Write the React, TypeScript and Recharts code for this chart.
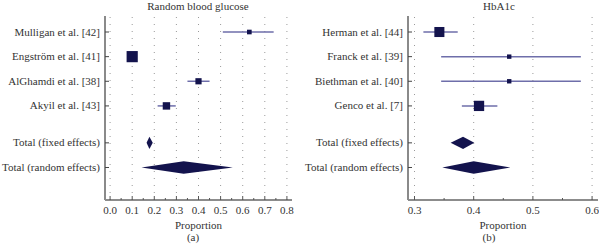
import { ScatterChart, Scatter, XAxis, YAxis, ErrorBar, ReferenceLine, Label } from 'recharts';

// Random blood glucose
const rbgStudies = ['Mulligan et al. [42]', 'Engström et al. [41]', 'AlGhamdi et al. [38]', 'Akyil et al. [43]'];
const rbgEst = [0.63, 0.1, 0.4, 0.255];
const rbgLow = [0.51, 0.09, 0.35, 0.215];
const rbgHigh = [0.74, 0.11, 0.45, 0.297];
const rbgWeight = [9, 52, 16, 23];
const rbgFixed = [0.165, 0.178, 0.193]; // low, estimate, high
const rbgRandom = [0.142, 0.333, 0.555];
const rbgTicks = [0, 0.05, 0.1, 0.15, 0.2, 0.25, 0.3, 0.35, 0.4, 0.45, 0.5, 0.55, 0.6, 0.65, 0.7, 0.75, 0.8];

// HbA1c
const hbaStudies = ['Herman et al. [44]', 'Franck et al. [39]', 'Biethman et al. [40]', 'Genco et al. [7]'];
const hbaEst = [0.342, 0.46, 0.46, 0.409];
const hbaLow = [0.315, 0.345, 0.345, 0.38];
const hbaHigh = [0.373, 0.581, 0.581, 0.44];
const hbaWeight = [42, 8, 8, 44];
const hbaFixed = [0.361, 0.382, 0.401];
const hbaRandom = [0.347, 0.4, 0.462];
const hbaTicks = [0.3, 0.35, 0.4, 0.45, 0.5, 0.55, 0.6];

const rowPos = [1, 2, 3, 4, 5.5, 6.5];
const totalLabels = ['Total (fixed effects)', 'Total (random effects)'];

const NAVY = '#13134d';
const CI = '#6e6eaa';
const TEXT = '#333';
const FONT = '"Liberation Serif", "DejaVu Serif", serif';
const FS = 11;

const isMajor = (v: number) => Math.abs(v * 10 - Math.round(v * 10)) < 1e-6;

function XTick({ x, y, payload }: any) {
  const v = payload.value;
  const major = isMajor(v);
  return (
    <g>
      <line x1={x} x2={x} y1={y} y2={y - (major ? 4 : 2)} stroke="#555" />
      {major && (
        <text x={x} y={y + 14} textAnchor="middle" fill={TEXT} style={{ fontFamily: FONT, fontSize: FS }}>
          {v.toFixed(1)}
        </text>
      )}
    </g>
  );
}

function Panel({ studies, est, low, high, weight, fixed, random, ticks, domain, yWidth, width, right }: any) {
  const labels = [...studies, ...totalLabels];
  const studyData = studies.map((s: string, i: number) => ({
    x: est[i],
    y: rowPos[i],
    err: [est[i] - low[i], high[i] - est[i]],
    w: weight[i],
  }));
  const diamond = (d: number[], row: number) => [
    { x: d[0], y: row },
    { x: d[1], y: row - 0.25 },
    { x: d[2], y: row },
    { x: d[1], y: row + 0.25 },
  ];
  const YTick = ({ x, y, payload }: any) => {
    const idx = rowPos.indexOf(payload.value);
    return (
      <g>
        <line x1={x} x2={x + 4} y1={y} y2={y} stroke="#444" />
        <text x={x - 5} y={y} dy={3.5} textAnchor="end" fill={TEXT} style={{ fontFamily: FONT, fontSize: FS }}>
          {labels[idx]}
        </text>
      </g>
    );
  };
  const polygon = (p: any) => (
    <polygon points={p.points.map((pt: any) => `${pt.x},${pt.y}`).join(' ')} fill={NAVY} stroke="none" />
  );
  const square = (p: any) => {
    const s = Math.sqrt(p.payload.w) * 1.55;
    return <rect x={p.cx - s / 2} y={p.cy - s / 2} width={s} height={s} fill={NAVY} />;
  };
  return (
    <ScatterChart width={width} height={250} margin={{ top: 16, right, bottom: 0, left: 0 }}>
      {ticks.filter(isMajor).map((t: number) => (
        <ReferenceLine key={t} x={t} stroke="#9a9a9a" strokeDasharray="1 6" />
      ))}
      <XAxis
        type="number"
        dataKey="x"
        domain={domain}
        allowDataOverflow
        ticks={ticks}
        interval={0}
        tick={<XTick />}
        tickLine={false}
        tickSize={0}
        tickMargin={0}
        height={50}
        axisLine={{ stroke: '#666', strokeWidth: 1.3 }}
      >
        <Label value="Proportion" position="insideBottom" offset={21} fill={TEXT} style={{ fontFamily: FONT, fontSize: FS }} />
      </XAxis>
      <YAxis
        type="number"
        dataKey="y"
        domain={[0.35, 7.82]}
        reversed
        allowDataOverflow
        ticks={rowPos}
        interval={0}
        tick={<YTick />}
        tickLine={false}
        tickSize={0}
        tickMargin={0}
        width={yWidth}
        axisLine={{ stroke: '#8a8a8a', strokeWidth: 2 }}
      />
      <Scatter data={studyData} shape={square} isAnimationActive={false}>
        <ErrorBar dataKey="err" direction="x" width={0} stroke={CI} strokeWidth={1.5} />
      </Scatter>
      <Scatter data={diamond(fixed, rowPos[4])} line={polygon} shape={() => <g />} isAnimationActive={false} />
      <Scatter data={diamond(random, rowPos[5])} line={polygon} shape={() => <g />} isAnimationActive={false} />
    </ScatterChart>
  );
}

const caption = (left: number, top: number, text: string) => (
  <div
    style={{
      position: 'absolute', left, top, width: 140, textAlign: 'center', fontSize: FS,
      lineHeight: '13px', zIndex: 2, whiteSpace: 'nowrap',
    }}
  >
    {text}
  </div>
);

export default function App() {
  return (
    <div style={{ position: 'absolute', left: 0, top: 0, width: 599, height: 250, fontFamily: FONT, color: TEXT, background: '#fff' }}>
      <div style={{ position: 'absolute', left: 0, top: 0 }}>
        <Panel
          studies={rbgStudies} est={rbgEst} low={rbgLow} high={rbgHigh} weight={rbgWeight}
          fixed={rbgFixed} random={rbgRandom} ticks={rbgTicks} domain={[-0.023, 0.823]}
          yWidth={105} width={300} right={8}
        />
      </div>
      <div style={{ position: 'absolute', left: 300, top: 0 }}>
        <Panel
          studies={hbaStudies} est={hbaEst} low={hbaLow} high={hbaHigh} weight={hbaWeight}
          fixed={hbaFixed} random={hbaRandom} ticks={hbaTicks} domain={[0.289, 0.61]}
          yWidth={108} width={299} right={1}
        />
      </div>
      {caption(128, 0, 'Random blood glucose')}
      {caption(429, 0, 'HbA1c')}
      {caption(123, 231, '(a)')}
      {caption(419, 231, '(b)')}
    </div>
  );
}
